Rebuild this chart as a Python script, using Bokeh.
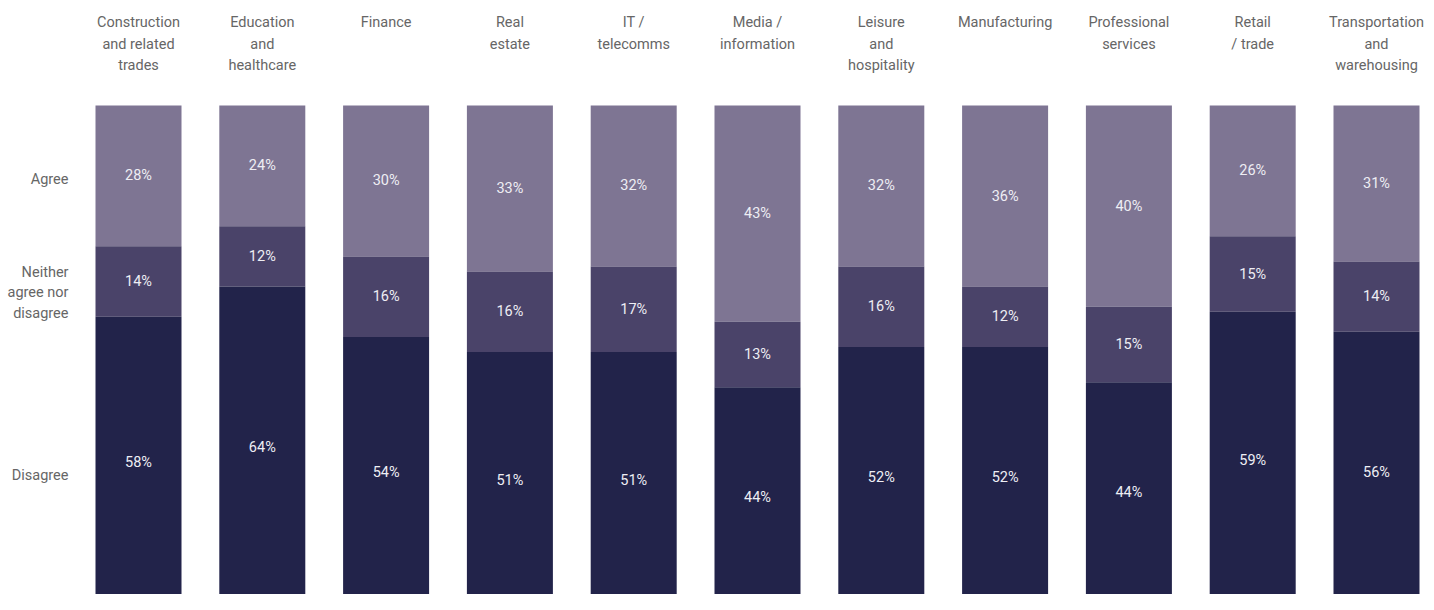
import numpy as np
from bokeh.plotting import figure
from bokeh.models import ColumnDataSource, Range1d
from bokeh.core.properties import value
from bokeh.embed import file_html
from bokeh.resources import INLINE

categories = [
    "Construction\nand related\ntrades",
    "Education\nand\nhealthcare",
    "Finance",
    "Real\nestate",
    "IT /\ntelecomms",
    "Media /\ninformation",
    "Leisure\nand\nhospitality",
    "Manufacturing",
    "Professional\nservices",
    "Retail\n/ trade",
    "Transportation\nand\nwarehousing",
]
agree = [28, 24, 30, 33, 32, 43, 32, 36, 40, 26, 31]
neither = [14, 12, 16, 16, 17, 13, 16, 12, 15, 15, 14]
disagree = [58, 64, 54, 51, 51, 44, 52, 52, 44, 59, 56]
series_names = ["Agree", "Neither\nagree nor\ndisagree", "Disagree"]
series_colors = ["#7e7593", "#4a4369", "#22234a"]

FONT = "Roboto"
W, H = 1426, 594
px_per_unit_x = 123.8
px_per_pct = 5.03
left_center_px = 138
top_px = 105

x = list(range(len(categories)))
x_start = -left_center_px / px_per_unit_x
x_end = (W - left_center_px) / px_per_unit_x
y_top = -top_px / px_per_pct
y_bottom = (H - top_px) / px_per_pct

p = figure(width=W, height=H, output_backend="svg", toolbar_location=None,
           x_range=Range1d(x_start, x_end), y_range=Range1d(y_bottom, y_top),
           x_axis_location=None, y_axis_location=None,
           min_border=0, outline_line_color=None)
p.grid.visible = False
p.background_fill_color = "white"
p.border_fill_color = "white"

src = ColumnDataSource(dict(x=x, agree=agree, neither=neither, disagree=disagree))
p.vbar_stack(["agree", "neither", "disagree"], x="x", width=86 / px_per_unit_x,
             color=series_colors, line_color=None, source=src)

# percentage labels centered in segments
lx, ly, lt = [], [], []
for i in range(len(categories)):
    base = 0
    for vals in (agree, neither, disagree):
        v = vals[i]
        lx.append(x[i]); ly.append(base + v / 2); lt.append(f"{v}%")
        base += v
p.text(x=lx, y=ly, text=lt, text_align="center", text_baseline="middle",
       text_color="#eeeef4", text_font=value(FONT), text_font_size="14.5px")

# category header labels
cx, cy, cyo, ct = [], [], [], []
header_y = y_top + 22 / px_per_pct
for i, c in enumerate(categories):
    for j, line in enumerate(c.split("\n")):
        cx.append(x[i]); cy.append(header_y); cyo.append(j * 21.5); ct.append(line)
p.text(x=cx, y=cy, y_offset=cyo, text=ct, text_align="center", text_baseline="middle",
       text_color="#666666", text_font=value(FONT), text_font_size="14.5px")

# row labels on the left
row_y = [14.7, 37.2, 73.6]
rx, ry, ryo, rt = [], [], [], []
label_x = x_start + 68 / px_per_unit_x
for name, yy in zip(series_names, row_y):
    lines = name.split("\n")
    n = len(lines)
    for j, line in enumerate(lines):
        rx.append(label_x); ry.append(yy); ryo.append((j - (n - 1) / 2) * 20.5); rt.append(line)
p.text(x=rx, y=ry, y_offset=ryo, text=rt, text_align="right", text_baseline="middle",
       text_color="#666666", text_font=value(FONT), text_font_size="14.5px")

open("out.html", "w").write(file_html(p, INLINE))
